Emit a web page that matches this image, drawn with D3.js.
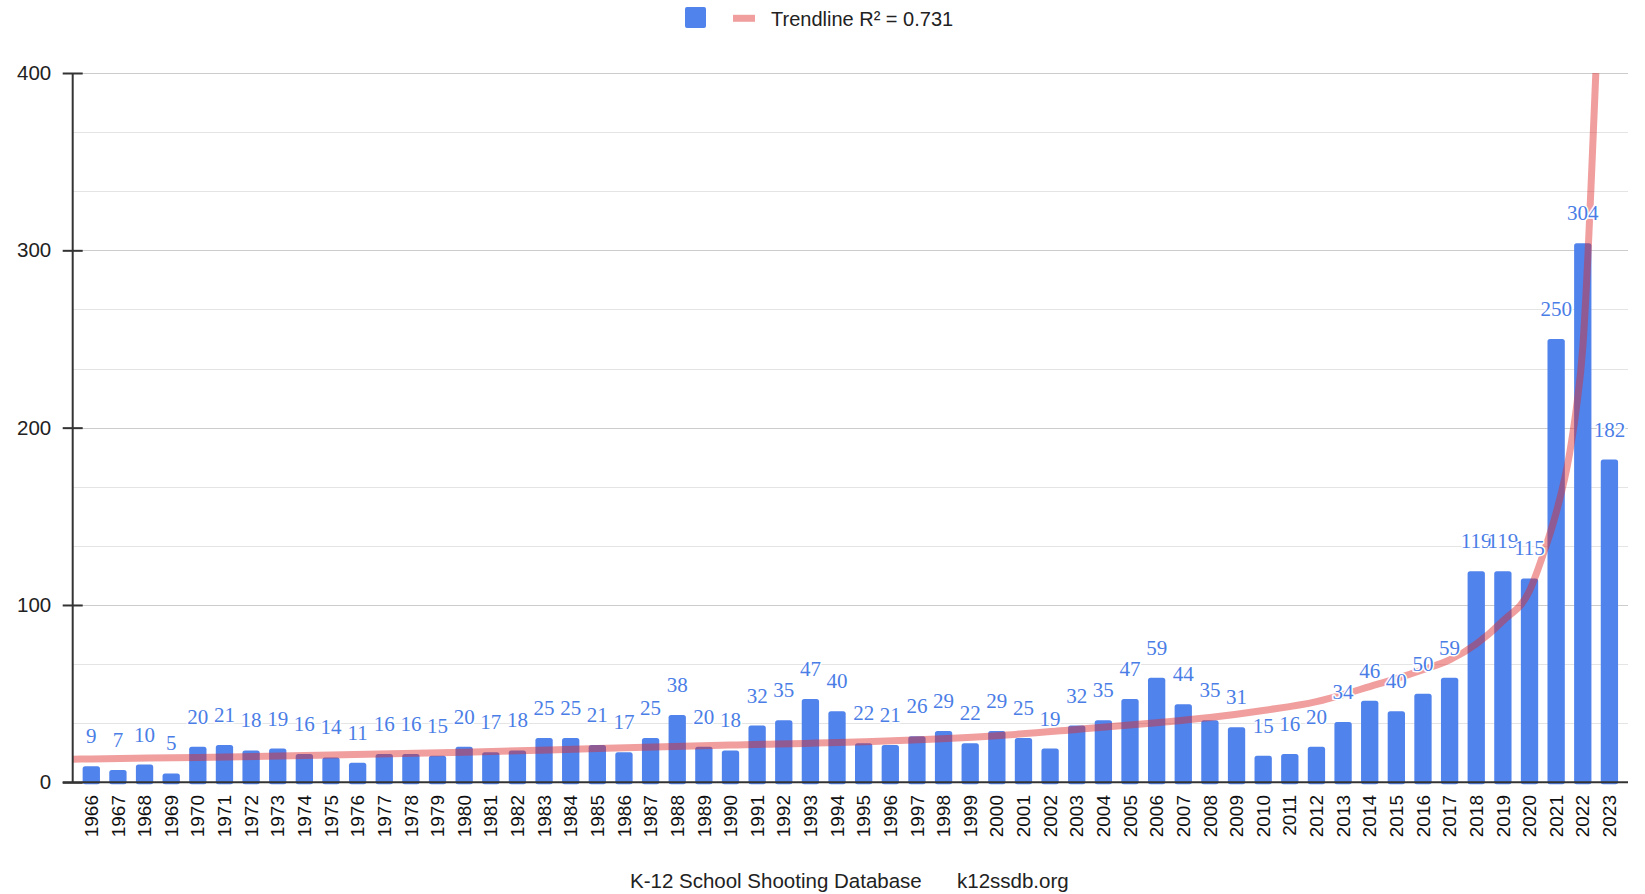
<!DOCTYPE html>
<html>
<head>
<meta charset="utf-8">
<script src="https://cdn.jsdelivr.net/npm/d3@7"></script>
<style>
  html, body { margin: 0; padding: 0; background: #fff; }
  svg { display: block; }
</style>
</head>
<body>
<svg id="chart" width="1645" height="894"></svg>
<script>
// ---------- data ----------
const years = ["1966","1967","1968","1969","1970","1971","1972","1973","1974","1975",
  "1976","1977","1978","1979","1980","1981","1982","1983","1984","1985",
  "1986","1987","1988","1989","1990","1991","1992","1993","1994","1995",
  "1996","1997","1998","1999","2000","2001","2002","2003","2004","2005",
  "2006","2007","2008","2009","2010","2011","2012","2013","2014","2015",
  "2016","2017","2018","2019","2020","2021","2022","2023"];
const incidents = [9,7,10,5,20,21,18,19,16,14,
  11,16,16,15,20,17,18,25,25,21,
  17,25,38,20,18,32,35,47,40,22,
  21,26,29,22,29,25,19,32,35,47,
  59,44,35,31,15,16,20,34,46,40,
  50,59,119,119,115,250,304,182];
// trendline (fractional year -> value)
const trendYears  = [1965.3, 1966, 1970, 1975, 1980, 1985, 1990, 1995, 2000, 2003, 2006, 2008, 2010,
  2012, 2013, 2014, 2015, 2016, 2017, 2018, 2019, 2020, 2020.5, 2021, 2021.5, 2021.75,
  2022, 2022.2, 2022.35, 2022.49];
const trendValues = [13.0, 13.2, 14.0, 15.4, 17.0, 19.0, 21.0, 22.9, 26.3, 29.8, 33.6, 36.5, 40.5,
  45.5, 49.5, 54, 58.5, 63.5, 69, 78, 91, 108, 128, 152, 185, 210,
  245, 299, 350, 400];
const yMajorTicks = [0, 100, 200, 300, 400];
const yMinorTicks = [33.33, 66.67, 133.33, 166.67, 233.33, 266.67, 333.33, 366.67];
const legendLabel = "Trendline R² = 0.731";
const footerLeft = "K-12 School Shooting Database";
const footerRight = "k12ssdb.org";

// ---------- styles ----------
const barColor = "rgb(81,131,236)";
const labelColor = "rgb(74,125,230)";
const trendColor = "rgb(222,40,40)";
const trendOpacity = 0.45;
const sans = "'Liberation Sans', Arial, Helvetica, sans-serif";
const serif = "'Liberation Serif', 'Times New Roman', serif";

const svg = d3.select("#chart");
const plotL = 72.7, plotR = 1628, plotT = 73, plotB = 782.3;

const x = d3.scaleBand().domain(years).range([plotL, plotR])
  .paddingInner(0.35).paddingOuter(0.373);
const y = d3.scaleLinear().domain([0, 400]).range([plotB, plotT]);
const xYear = d3.scaleLinear()
  .domain([+years[0], +years[years.length - 1]])
  .range([x(years[0]) + x.bandwidth() / 2, x(years[years.length - 1]) + x.bandwidth() / 2]);

// gridlines
svg.append("g").selectAll("line").data(yMinorTicks).join("line")
  .attr("x1", plotL).attr("x2", plotR)
  .attr("y1", d => Math.round(y(d)) + 0.5).attr("y2", d => Math.round(y(d)) + 0.5)
  .attr("stroke", "#e4e4e4").attr("stroke-width", 1);
svg.append("g").selectAll("line").data(yMajorTicks.filter(d => d > 0)).join("line")
  .attr("x1", plotL).attr("x2", plotR)
  .attr("y1", d => Math.round(y(d)) + 0.5).attr("y2", d => Math.round(y(d)) + 0.5)
  .attr("stroke", "#cccccc").attr("stroke-width", 1.2);

// bars
svg.append("g").selectAll("rect").data(incidents).join("rect")
  .attr("x", (d, i) => x(years[i]))
  .attr("width", x.bandwidth())
  .attr("y", d => y(d))
  .attr("height", d => plotB - y(d) + 2)
  .attr("rx", 2.5)
  .attr("fill", barColor);

// trendline
svg.append("clipPath").attr("id", "plotclip").append("rect")
  .attr("x", plotL).attr("y", plotT).attr("width", plotR - plotL).attr("height", plotB - plotT);
const trendLine = d3.line()
  .x((d, i) => xYear(trendYears[i]))
  .y(d => y(d))
  .curve(d3.curveMonotoneX);
svg.append("path")
  .datum(trendValues)
  .attr("d", trendLine)
  .attr("clip-path", "url(#plotclip)")
  .attr("fill", "none")
  .attr("stroke", trendColor)
  .attr("stroke-opacity", trendOpacity)
  .attr("stroke-width", 7);

// axes
const yAxis = d3.axisLeft(y).tickValues(yMajorTicks).tickSize(10).tickPadding(11.5);
const gy = svg.append("g").attr("transform", `translate(${plotL},0)`).call(yAxis);
gy.select(".domain").remove();
gy.selectAll(".tick line").attr("x1", 10).attr("stroke", "#333").attr("stroke-width", 2);
gy.selectAll(".tick text").attr("font-family", sans).attr("font-size", 20.5).attr("fill", "#222");
svg.append("line").attr("x1", plotL).attr("x2", plotL).attr("y1", plotT).attr("y2", plotB)
  .attr("stroke", "#333").attr("stroke-width", 2);
svg.append("line").attr("x1", 62.7).attr("x2", plotR).attr("y1", plotB).attr("y2", plotB)
  .attr("stroke", "#333").attr("stroke-width", 2);

const xAxis = d3.axisBottom(x).tickSize(0).tickPadding(0);
const gx = svg.append("g").attr("transform", `translate(0,${plotB})`).call(xAxis);
gx.select(".domain").remove();
gx.selectAll(".tick text")
  .attr("font-family", sans).attr("font-size", 19).attr("fill", "#111")
  .attr("transform", "rotate(-90)")
  .attr("x", -12.7).attr("y", 0).attr("dy", "0.35em")
  .attr("text-anchor", "end");

// data labels
svg.append("g").selectAll("text").data(incidents).join("text")
  .attr("x", (d, i) => x(years[i]) + x.bandwidth() / 2)
  .attr("y", d => y(d) - 23)
  .attr("text-anchor", "middle")
  .attr("font-family", serif).attr("font-size", 21)
  .attr("fill", labelColor)
  .attr("stroke", "#fff").attr("stroke-width", 3).attr("paint-order", "stroke")
  .attr("stroke-linejoin", "round")
  .text(d => d);

// legend
svg.append("rect").attr("x", 685).attr("y", 7).attr("width", 21).attr("height", 21)
  .attr("rx", 2).attr("fill", barColor);
svg.append("line").attr("x1", 733).attr("x2", 755).attr("y1", 18.3).attr("y2", 18.3)
  .attr("stroke", trendColor).attr("stroke-opacity", trendOpacity).attr("stroke-width", 7);
svg.append("text").attr("x", 771).attr("y", 25.5)
  .attr("font-family", sans).attr("font-size", 20).attr("fill", "#222").text(legendLabel);

// footer
svg.append("text").attr("x", 630).attr("y", 887.5)
  .attr("font-family", sans).attr("font-size", 20.5).attr("fill", "#222").text(footerLeft);
svg.append("text").attr("x", 957).attr("y", 887.5)
  .attr("font-family", sans).attr("font-size", 20.5).attr("fill", "#222").text(footerRight);
</script>
</body>
</html>
